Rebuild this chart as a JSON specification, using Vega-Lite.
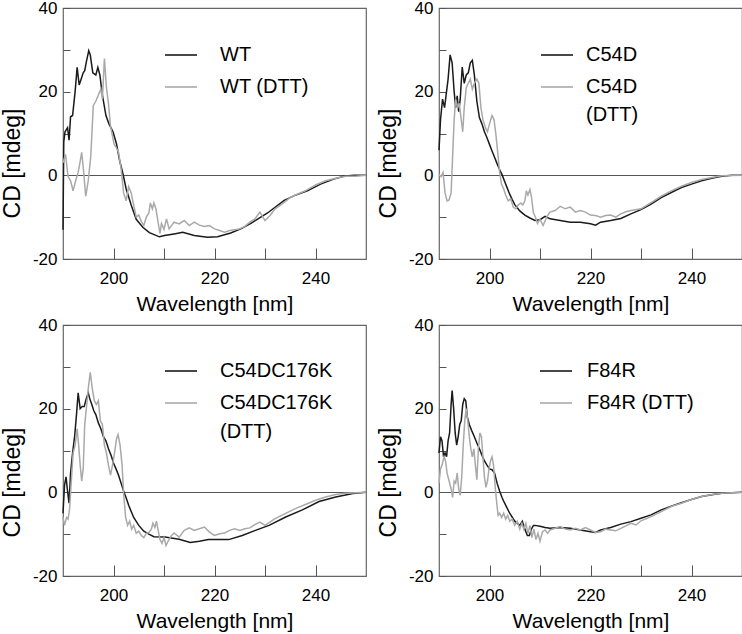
{
  "$schema": "https://vega.github.io/schema/vega-lite/v6.json",
  "padding": {"left": 0, "top": -2, "right": 0, "bottom": 0},
  "background": "white",
  "config": {
    "view": {"stroke": "#666666", "strokeWidth": 1.2},
    "axis": {
      "labelFont": "Liberation Sans", "labelFontSize": 17, "labelColor": "#000000",
      "titleFont": "Liberation Sans", "titleFontSize": 21, "titleFontWeight": "normal", "titleColor": "#000000",
      "grid": false, "domain": false
    },
    "legend": {
      "labelFont": "Liberation Sans", "labelFontSize": 20, "labelColor": "#000000",
      "symbolType": "stroke", "symbolSize": 1024, "symbolStrokeWidth": 1.6,
      "padding": 0, "rowPadding": 5, "orient": "none", "title": null, "labelLimit": 300
    }
  },
  "data": {"values": [
    {"series":"WT","wl":190.0,"cd":-13},{"series":"WT","wl":190.15,"cd":8},{"series":"WT","wl":190.4,"cd":10.4},{"series":"WT","wl":190.9,"cd":11.4},{"series":"WT","wl":191.2,"cd":8.4},{"series":"WT","wl":191.5,"cd":14},{"series":"WT","wl":191.9,"cd":14.3},{"series":"WT","wl":192.4,"cd":20},{"series":"WT","wl":192.8,"cd":25.8},{"series":"WT","wl":193.2,"cd":21.6},{"series":"WT","wl":193.6,"cd":23},{"series":"WT","wl":194.0,"cd":24.5},{"series":"WT","wl":194.3,"cd":25},{"series":"WT","wl":194.6,"cd":27},{"series":"WT","wl":195.1,"cd":29.8},{"series":"WT","wl":195.4,"cd":28.8},{"series":"WT","wl":195.9,"cd":24.5},{"series":"WT","wl":196.5,"cd":24},{"series":"WT","wl":196.9,"cd":25.8},{"series":"WT","wl":197.3,"cd":24},{"series":"WT","wl":197.8,"cd":19.2},{"series":"WT","wl":198.5,"cd":14.3},{"series":"WT","wl":199.1,"cd":12.3},{"series":"WT","wl":199.9,"cd":10.4},{"series":"WT","wl":200.6,"cd":7.5},{"series":"WT","wl":201.2,"cd":3.6},{"series":"WT","wl":201.9,"cd":0.2},{"series":"WT","wl":202.5,"cd":-3.2},{"series":"WT","wl":203.5,"cd":-7.1},{"series":"WT","wl":204.5,"cd":-10.5},{"series":"WT","wl":205.8,"cd":-12.4},{"series":"WT","wl":207.1,"cd":-13.7},{"series":"WT","wl":209.1,"cd":-14.7},{"series":"WT","wl":210.1,"cd":-14.4},{"series":"WT","wl":212,"cd":-14},{"series":"WT","wl":213.7,"cd":-13.6},{"series":"WT","wl":216,"cd":-14.4},{"series":"WT","wl":218.6,"cd":-14.8},{"series":"WT","wl":220.6,"cd":-14.7},{"series":"WT","wl":223.2,"cd":-13.8},{"series":"WT","wl":225.2,"cd":-12.8},{"series":"WT","wl":227.2,"cd":-11.5},{"series":"WT","wl":230.5,"cd":-9},{"series":"WT","wl":233.8,"cd":-6},{"series":"WT","wl":235.7,"cd":-4.9},{"series":"WT","wl":238.4,"cd":-3.7},{"series":"WT","wl":241,"cd":-2.1},{"series":"WT","wl":243.6,"cd":-0.9},{"series":"WT","wl":245.6,"cd":-0.2},{"series":"WT","wl":247.6,"cd":0},{"series":"WT","wl":250,"cd":0},
    {"series":"WT (DTT)","wl":190.0,"cd":3},{"series":"WT (DTT)","wl":190.5,"cd":5},{"series":"WT (DTT)","wl":191.0,"cd":-0.3},{"series":"WT (DTT)","wl":191.5,"cd":-1.3},{"series":"WT (DTT)","wl":192.0,"cd":-3.7},{"series":"WT (DTT)","wl":192.5,"cd":-1.3},{"series":"WT (DTT)","wl":193.0,"cd":0.7},{"series":"WT (DTT)","wl":193.3,"cd":2.6},{"series":"WT (DTT)","wl":193.7,"cd":5.5},{"series":"WT (DTT)","wl":194.1,"cd":0.7},{"series":"WT (DTT)","wl":194.5,"cd":-5},{"series":"WT (DTT)","wl":195.0,"cd":-1.3},{"series":"WT (DTT)","wl":195.5,"cd":4.6},{"series":"WT (DTT)","wl":196.0,"cd":16.7},{"series":"WT (DTT)","wl":196.5,"cd":17.7},{"series":"WT (DTT)","wl":197.0,"cd":19.2},{"series":"WT (DTT)","wl":197.5,"cd":20.6},{"series":"WT (DTT)","wl":197.8,"cd":18.2},{"series":"WT (DTT)","wl":198.2,"cd":27.9},{"series":"WT (DTT)","wl":198.6,"cd":21},{"series":"WT (DTT)","wl":199.0,"cd":17.2},{"series":"WT (DTT)","wl":199.4,"cd":11.8},{"series":"WT (DTT)","wl":199.8,"cd":9.4},{"series":"WT (DTT)","wl":200.1,"cd":7.5},{"series":"WT (DTT)","wl":200.6,"cd":6.5},{"series":"WT (DTT)","wl":201.0,"cd":5.5},{"series":"WT (DTT)","wl":201.5,"cd":1.6},{"series":"WT (DTT)","wl":202.0,"cd":-4.2},{"series":"WT (DTT)","wl":202.5,"cd":-6.1},{"series":"WT (DTT)","wl":203.0,"cd":-2.7},{"series":"WT (DTT)","wl":203.5,"cd":-4.2},{"series":"WT (DTT)","wl":204.0,"cd":-7.1},{"series":"WT (DTT)","wl":204.5,"cd":-10},{"series":"WT (DTT)","wl":205.0,"cd":-9.5},{"series":"WT (DTT)","wl":205.5,"cd":-11},{"series":"WT (DTT)","wl":206.0,"cd":-12},{"series":"WT (DTT)","wl":206.5,"cd":-10},{"series":"WT (DTT)","wl":207.0,"cd":-9},{"series":"WT (DTT)","wl":207.3,"cd":-6.6},{"series":"WT (DTT)","wl":207.7,"cd":-8},{"series":"WT (DTT)","wl":208.0,"cd":-6.6},{"series":"WT (DTT)","wl":208.4,"cd":-8},{"series":"WT (DTT)","wl":208.8,"cd":-11},{"series":"WT (DTT)","wl":209.2,"cd":-13.9},{"series":"WT (DTT)","wl":209.5,"cd":-11.5},{"series":"WT (DTT)","wl":210.0,"cd":-12.9},{"series":"WT (DTT)","wl":210.5,"cd":-10.4},{"series":"WT (DTT)","wl":211,"cd":-12.8},{"series":"WT (DTT)","wl":212,"cd":-11.2},{"series":"WT (DTT)","wl":213,"cd":-11.6},{"series":"WT (DTT)","wl":214,"cd":-10.8},{"series":"WT (DTT)","wl":215,"cd":-12},{"series":"WT (DTT)","wl":216,"cd":-11.2},{"series":"WT (DTT)","wl":217,"cd":-11.9},{"series":"WT (DTT)","wl":218,"cd":-12.2},{"series":"WT (DTT)","wl":219,"cd":-12},{"series":"WT (DTT)","wl":220,"cd":-12.8},{"series":"WT (DTT)","wl":221,"cd":-13.2},{"series":"WT (DTT)","wl":222,"cd":-13.6},{"series":"WT (DTT)","wl":223,"cd":-13.2},{"series":"WT (DTT)","wl":224,"cd":-13},{"series":"WT (DTT)","wl":225,"cd":-12.8},{"series":"WT (DTT)","wl":226,"cd":-12.2},{"series":"WT (DTT)","wl":227,"cd":-11.2},{"series":"WT (DTT)","wl":228,"cd":-10.4},{"series":"WT (DTT)","wl":229,"cd":-8.8},{"series":"WT (DTT)","wl":230,"cd":-10.8},{"series":"WT (DTT)","wl":231,"cd":-9.6},{"series":"WT (DTT)","wl":232,"cd":-8},{"series":"WT (DTT)","wl":233,"cd":-7.2},{"series":"WT (DTT)","wl":234,"cd":-6.3},{"series":"WT (DTT)","wl":235,"cd":-5.3},{"series":"WT (DTT)","wl":236,"cd":-4.7},{"series":"WT (DTT)","wl":238,"cd":-3.7},{"series":"WT (DTT)","wl":240,"cd":-2.3},{"series":"WT (DTT)","wl":242,"cd":-1.3},{"series":"WT (DTT)","wl":244,"cd":-0.7},{"series":"WT (DTT)","wl":246,"cd":-0.2},{"series":"WT (DTT)","wl":248,"cd":-0.2},{"series":"WT (DTT)","wl":250,"cd":0},
    {"series":"C54D","wl":190.0,"cd":6},{"series":"C54D","wl":190.3,"cd":13.3},{"series":"C54D","wl":190.7,"cd":18.2},{"series":"C54D","wl":191.1,"cd":16.2},{"series":"C54D","wl":191.4,"cd":19.1},{"series":"C54D","wl":191.8,"cd":23},{"series":"C54D","wl":192.2,"cd":28.8},{"series":"C54D","wl":192.6,"cd":26.9},{"series":"C54D","wl":193.0,"cd":20},{"series":"C54D","wl":193.3,"cd":16.2},{"series":"C54D","wl":193.6,"cd":19},{"series":"C54D","wl":193.9,"cd":15.2},{"series":"C54D","wl":194.2,"cd":18.2},{"series":"C54D","wl":194.6,"cd":25.9},{"series":"C54D","wl":195.0,"cd":22},{"series":"C54D","wl":195.4,"cd":24},{"series":"C54D","wl":195.8,"cd":24.5},{"series":"C54D","wl":196.2,"cd":26.9},{"series":"C54D","wl":196.6,"cd":27.5},{"series":"C54D","wl":197.0,"cd":24},{"series":"C54D","wl":197.5,"cd":17.7},{"series":"C54D","wl":198.0,"cd":13.8},{"series":"C54D","wl":198.5,"cd":12.3},{"series":"C54D","wl":199.0,"cd":10.4},{"series":"C54D","wl":199.5,"cd":9},{"series":"C54D","wl":200.0,"cd":7.4},{"series":"C54D","wl":200.5,"cd":5.8},{"series":"C54D","wl":201.0,"cd":4.3},{"series":"C54D","wl":201.5,"cd":2.8},{"series":"C54D","wl":202.0,"cd":1.4},{"series":"C54D","wl":202.5,"cd":0.1},{"series":"C54D","wl":203.0,"cd":-1.5},{"series":"C54D","wl":203.5,"cd":-3},{"series":"C54D","wl":204.0,"cd":-4.5},{"series":"C54D","wl":204.5,"cd":-5.8},{"series":"C54D","wl":205.0,"cd":-7},{"series":"C54D","wl":206.0,"cd":-8.5},{"series":"C54D","wl":207.0,"cd":-9.5},{"series":"C54D","wl":208.0,"cd":-10.2},{"series":"C54D","wl":209.0,"cd":-10.8},{"series":"C54D","wl":210.0,"cd":-10.6},{"series":"C54D","wl":211,"cd":-9.8},{"series":"C54D","wl":212,"cd":-10.4},{"series":"C54D","wl":214,"cd":-10.8},{"series":"C54D","wl":216,"cd":-11.2},{"series":"C54D","wl":218,"cd":-11.2},{"series":"C54D","wl":220,"cd":-11.6},{"series":"C54D","wl":221,"cd":-11.9},{"series":"C54D","wl":222,"cd":-11.2},{"series":"C54D","wl":224,"cd":-10.8},{"series":"C54D","wl":226,"cd":-10.3},{"series":"C54D","wl":228,"cd":-9.2},{"series":"C54D","wl":230,"cd":-8.2},{"series":"C54D","wl":232,"cd":-6.9},{"series":"C54D","wl":234,"cd":-5.3},{"series":"C54D","wl":236,"cd":-4.1},{"series":"C54D","wl":238,"cd":-2.9},{"series":"C54D","wl":240,"cd":-2.1},{"series":"C54D","wl":242,"cd":-1.3},{"series":"C54D","wl":244,"cd":-0.7},{"series":"C54D","wl":246,"cd":-0.2},{"series":"C54D","wl":248,"cd":0},{"series":"C54D","wl":250,"cd":0},
    {"series":"C54D (DTT)","wl":190.0,"cd":0.2},{"series":"C54D (DTT)","wl":190.4,"cd":-0.3},{"series":"C54D (DTT)","wl":190.8,"cd":0.7},{"series":"C54D (DTT)","wl":191.2,"cd":-4.2},{"series":"C54D (DTT)","wl":191.6,"cd":-6.1},{"series":"C54D (DTT)","wl":192.0,"cd":-5.9},{"series":"C54D (DTT)","wl":192.4,"cd":-4.2},{"series":"C54D (DTT)","wl":192.7,"cd":4.6},{"series":"C54D (DTT)","wl":193.0,"cd":13.3},{"series":"C54D (DTT)","wl":193.3,"cd":18.2},{"series":"C54D (DTT)","wl":193.7,"cd":16.2},{"series":"C54D (DTT)","wl":194.0,"cd":17.2},{"series":"C54D (DTT)","wl":194.4,"cd":13.3},{"series":"C54D (DTT)","wl":194.7,"cd":10.4},{"series":"C54D (DTT)","wl":195.0,"cd":16.2},{"series":"C54D (DTT)","wl":195.4,"cd":21},{"series":"C54D (DTT)","wl":195.8,"cd":22},{"series":"C54D (DTT)","wl":196.2,"cd":23},{"series":"C54D (DTT)","wl":196.6,"cd":20.6},{"series":"C54D (DTT)","wl":197.0,"cd":22},{"series":"C54D (DTT)","wl":197.5,"cd":23},{"series":"C54D (DTT)","wl":197.9,"cd":22},{"series":"C54D (DTT)","wl":198.3,"cd":16.2},{"series":"C54D (DTT)","wl":198.7,"cd":13.3},{"series":"C54D (DTT)","wl":199.2,"cd":11.4},{"series":"C54D (DTT)","wl":199.6,"cd":10.4},{"series":"C54D (DTT)","wl":200.0,"cd":12.3},{"series":"C54D (DTT)","wl":200.5,"cd":14.3},{"series":"C54D (DTT)","wl":200.9,"cd":13.3},{"series":"C54D (DTT)","wl":201.3,"cd":9.4},{"series":"C54D (DTT)","wl":201.7,"cd":4.6},{"series":"C54D (DTT)","wl":202.0,"cd":0.7},{"series":"C54D (DTT)","wl":202.4,"cd":-2.2},{"series":"C54D (DTT)","wl":202.8,"cd":-3.2},{"series":"C54D (DTT)","wl":203.2,"cd":-4.7},{"series":"C54D (DTT)","wl":203.7,"cd":-6.1},{"series":"C54D (DTT)","wl":204.2,"cd":-5.6},{"series":"C54D (DTT)","wl":204.7,"cd":-7.6},{"series":"C54D (DTT)","wl":205.2,"cd":-8},{"series":"C54D (DTT)","wl":205.7,"cd":-7.1},{"series":"C54D (DTT)","wl":206.2,"cd":-6.6},{"series":"C54D (DTT)","wl":206.6,"cd":-7.1},{"series":"C54D (DTT)","wl":207.0,"cd":-6.1},{"series":"C54D (DTT)","wl":207.3,"cd":-3.7},{"series":"C54D (DTT)","wl":207.6,"cd":-4.7},{"series":"C54D (DTT)","wl":208.0,"cd":-3.4},{"series":"C54D (DTT)","wl":208.3,"cd":-5.1},{"series":"C54D (DTT)","wl":208.7,"cd":-9},{"series":"C54D (DTT)","wl":209.1,"cd":-10},{"series":"C54D (DTT)","wl":209.5,"cd":-11.5},{"series":"C54D (DTT)","wl":210.0,"cd":-10.5},{"series":"C54D (DTT)","wl":210.6,"cd":-12},{"series":"C54D (DTT)","wl":211.5,"cd":-9.6},{"series":"C54D (DTT)","wl":212,"cd":-8.8},{"series":"C54D (DTT)","wl":213,"cd":-8.4},{"series":"C54D (DTT)","wl":214,"cd":-7.4},{"series":"C54D (DTT)","wl":215,"cd":-8},{"series":"C54D (DTT)","wl":216,"cd":-7.6},{"series":"C54D (DTT)","wl":217,"cd":-8.8},{"series":"C54D (DTT)","wl":218,"cd":-8.4},{"series":"C54D (DTT)","wl":219,"cd":-8.8},{"series":"C54D (DTT)","wl":220,"cd":-9.5},{"series":"C54D (DTT)","wl":221,"cd":-9.6},{"series":"C54D (DTT)","wl":222,"cd":-10},{"series":"C54D (DTT)","wl":223,"cd":-9.6},{"series":"C54D (DTT)","wl":224,"cd":-9.5},{"series":"C54D (DTT)","wl":225,"cd":-10},{"series":"C54D (DTT)","wl":226,"cd":-9.2},{"series":"C54D (DTT)","wl":227,"cd":-8.7},{"series":"C54D (DTT)","wl":228,"cd":-8.4},{"series":"C54D (DTT)","wl":230,"cd":-8},{"series":"C54D (DTT)","wl":232,"cd":-6.5},{"series":"C54D (DTT)","wl":234,"cd":-5},{"series":"C54D (DTT)","wl":236,"cd":-3.7},{"series":"C54D (DTT)","wl":238,"cd":-2.6},{"series":"C54D (DTT)","wl":240,"cd":-1.7},{"series":"C54D (DTT)","wl":242,"cd":-1},{"series":"C54D (DTT)","wl":244,"cd":-0.5},{"series":"C54D (DTT)","wl":246,"cd":-0.1},{"series":"C54D (DTT)","wl":250,"cd":0},
    {"series":"C54DC176K","wl":190.0,"cd":-5},{"series":"C54DC176K","wl":190.3,"cd":1.7},{"series":"C54DC176K","wl":190.6,"cd":3.7},{"series":"C54DC176K","wl":190.9,"cd":0.3},{"series":"C54DC176K","wl":191.2,"cd":-2.6},{"series":"C54DC176K","wl":191.5,"cd":4.6},{"series":"C54DC176K","wl":191.9,"cd":9.4},{"series":"C54DC176K","wl":192.3,"cd":13.3},{"series":"C54DC176K","wl":192.7,"cd":19},{"series":"C54DC176K","wl":193.0,"cd":23.8},{"series":"C54DC176K","wl":193.4,"cd":20},{"series":"C54DC176K","wl":193.8,"cd":20.5},{"series":"C54DC176K","wl":194.2,"cd":20.5},{"series":"C54DC176K","wl":194.6,"cd":22.4},{"series":"C54DC176K","wl":195.0,"cd":23.8},{"series":"C54DC176K","wl":195.3,"cd":22.4},{"series":"C54DC176K","wl":195.7,"cd":21},{"series":"C54DC176K","wl":196.1,"cd":19.5},{"series":"C54DC176K","wl":196.5,"cd":18.6},{"series":"C54DC176K","wl":197.0,"cd":16.6},{"series":"C54DC176K","wl":197.5,"cd":15.2},{"series":"C54DC176K","wl":198.0,"cd":13.3},{"series":"C54DC176K","wl":198.5,"cd":12.3},{"series":"C54DC176K","wl":199.0,"cd":10.4},{"series":"C54DC176K","wl":199.5,"cd":8.9},{"series":"C54DC176K","wl":200.0,"cd":7},{"series":"C54DC176K","wl":200.5,"cd":5.6},{"series":"C54DC176K","wl":201.0,"cd":4.1},{"series":"C54DC176K","wl":201.5,"cd":2.2},{"series":"C54DC176K","wl":202.0,"cd":0.3},{"series":"C54DC176K","wl":202.5,"cd":-1.3},{"series":"C54DC176K","wl":203.0,"cd":-3.1},{"series":"C54DC176K","wl":204.0,"cd":-6},{"series":"C54DC176K","wl":205.0,"cd":-7.9},{"series":"C54DC176K","wl":206.0,"cd":-9.3},{"series":"C54DC176K","wl":207.0,"cd":-10},{"series":"C54DC176K","wl":208.0,"cd":-10.6},{"series":"C54DC176K","wl":210.2,"cd":-10.7},{"series":"C54DC176K","wl":213,"cd":-11.2},{"series":"C54DC176K","wl":215.2,"cd":-12},{"series":"C54DC176K","wl":217,"cd":-11.7},{"series":"C54DC176K","wl":218.8,"cd":-11.3},{"series":"C54DC176K","wl":222.8,"cd":-11.3},{"series":"C54DC176K","wl":225.5,"cd":-10.3},{"series":"C54DC176K","wl":228.1,"cd":-9.1},{"series":"C54DC176K","wl":230.8,"cd":-7.9},{"series":"C54DC176K","wl":234.1,"cd":-5.9},{"series":"C54DC176K","wl":237.4,"cd":-4.2},{"series":"C54DC176K","wl":240.7,"cd":-2.2},{"series":"C54DC176K","wl":244,"cd":-1.1},{"series":"C54DC176K","wl":247.4,"cd":-0.3},{"series":"C54DC176K","wl":250,"cd":0},
    {"series":"C54DC176K (DTT)","wl":190.0,"cd":-6},{"series":"C54DC176K (DTT)","wl":190.3,"cd":-7.9},{"series":"C54DC176K (DTT)","wl":190.7,"cd":-6},{"series":"C54DC176K (DTT)","wl":191.0,"cd":-6.4},{"series":"C54DC176K (DTT)","wl":191.3,"cd":-4},{"series":"C54DC176K (DTT)","wl":191.7,"cd":3.7},{"series":"C54DC176K (DTT)","wl":192.0,"cd":9.4},{"series":"C54DC176K (DTT)","wl":192.4,"cd":11.3},{"series":"C54DC176K (DTT)","wl":192.8,"cd":15.2},{"series":"C54DC176K (DTT)","wl":193.1,"cd":11.3},{"series":"C54DC176K (DTT)","wl":193.4,"cd":6.5},{"series":"C54DC176K (DTT)","wl":193.7,"cd":2.7},{"series":"C54DC176K (DTT)","wl":194.0,"cd":5.6},{"series":"C54DC176K (DTT)","wl":194.3,"cd":16.2},{"series":"C54DC176K (DTT)","wl":194.7,"cd":21},{"series":"C54DC176K (DTT)","wl":195.0,"cd":24.8},{"series":"C54DC176K (DTT)","wl":195.4,"cd":28.7},{"series":"C54DC176K (DTT)","wl":195.8,"cd":24.8},{"series":"C54DC176K (DTT)","wl":196.2,"cd":21.9},{"series":"C54DC176K (DTT)","wl":196.6,"cd":21},{"series":"C54DC176K (DTT)","wl":197.0,"cd":21.9},{"series":"C54DC176K (DTT)","wl":197.4,"cd":17.1},{"series":"C54DC176K (DTT)","wl":197.8,"cd":16.2},{"series":"C54DC176K (DTT)","wl":198.2,"cd":11.3},{"series":"C54DC176K (DTT)","wl":198.6,"cd":9.4},{"series":"C54DC176K (DTT)","wl":199.0,"cd":6.5},{"series":"C54DC176K (DTT)","wl":199.4,"cd":4.1},{"series":"C54DC176K (DTT)","wl":199.8,"cd":6.5},{"series":"C54DC176K (DTT)","wl":200.2,"cd":9.4},{"series":"C54DC176K (DTT)","wl":200.6,"cd":12.8},{"series":"C54DC176K (DTT)","wl":200.9,"cd":13.8},{"series":"C54DC176K (DTT)","wl":201.3,"cd":11.3},{"series":"C54DC176K (DTT)","wl":201.7,"cd":6.5},{"series":"C54DC176K (DTT)","wl":202.0,"cd":-0.2},{"series":"C54DC176K (DTT)","wl":202.4,"cd":-6},{"series":"C54DC176K (DTT)","wl":202.8,"cd":-7.9},{"series":"C54DC176K (DTT)","wl":203.2,"cd":-6.9},{"series":"C54DC176K (DTT)","wl":203.6,"cd":-8.8},{"series":"C54DC176K (DTT)","wl":204.0,"cd":-7.9},{"series":"C54DC176K (DTT)","wl":204.5,"cd":-9.8},{"series":"C54DC176K (DTT)","wl":205.0,"cd":-9.3},{"series":"C54DC176K (DTT)","wl":205.5,"cd":-10.3},{"series":"C54DC176K (DTT)","wl":206.0,"cd":-10.8},{"series":"C54DC176K (DTT)","wl":206.5,"cd":-9.8},{"series":"C54DC176K (DTT)","wl":207.0,"cd":-9.6},{"series":"C54DC176K (DTT)","wl":207.5,"cd":-8.8},{"series":"C54DC176K (DTT)","wl":207.8,"cd":-7.4},{"series":"C54DC176K (DTT)","wl":208.2,"cd":-8.4},{"series":"C54DC176K (DTT)","wl":208.5,"cd":-6.9},{"series":"C54DC176K (DTT)","wl":208.8,"cd":-8.8},{"series":"C54DC176K (DTT)","wl":209.2,"cd":-11.3},{"series":"C54DC176K (DTT)","wl":209.6,"cd":-12.2},{"series":"C54DC176K (DTT)","wl":210.0,"cd":-10.8},{"series":"C54DC176K (DTT)","wl":210.4,"cd":-12.7},{"series":"C54DC176K (DTT)","wl":210.8,"cd":-11.7},{"series":"C54DC176K (DTT)","wl":211.5,"cd":-10.3},{"series":"C54DC176K (DTT)","wl":212,"cd":-9.7},{"series":"C54DC176K (DTT)","wl":213,"cd":-10.7},{"series":"C54DC176K (DTT)","wl":214,"cd":-9.1},{"series":"C54DC176K (DTT)","wl":215,"cd":-8.5},{"series":"C54DC176K (DTT)","wl":216,"cd":-9.1},{"series":"C54DC176K (DTT)","wl":217,"cd":-8.7},{"series":"C54DC176K (DTT)","wl":218,"cd":-8.3},{"series":"C54DC176K (DTT)","wl":219,"cd":-9.5},{"series":"C54DC176K (DTT)","wl":220,"cd":-10.3},{"series":"C54DC176K (DTT)","wl":221,"cd":-9.9},{"series":"C54DC176K (DTT)","wl":222,"cd":-9.7},{"series":"C54DC176K (DTT)","wl":223,"cd":-9.1},{"series":"C54DC176K (DTT)","wl":224,"cd":-8.7},{"series":"C54DC176K (DTT)","wl":225,"cd":-9.1},{"series":"C54DC176K (DTT)","wl":226,"cd":-8.7},{"series":"C54DC176K (DTT)","wl":227,"cd":-8.5},{"series":"C54DC176K (DTT)","wl":228,"cd":-7.7},{"series":"C54DC176K (DTT)","wl":229,"cd":-7.1},{"series":"C54DC176K (DTT)","wl":230,"cd":-7.9},{"series":"C54DC176K (DTT)","wl":232,"cd":-6.3},{"series":"C54DC176K (DTT)","wl":234,"cd":-5.1},{"series":"C54DC176K (DTT)","wl":236,"cd":-3.9},{"series":"C54DC176K (DTT)","wl":238,"cd":-2.9},{"series":"C54DC176K (DTT)","wl":240,"cd":-1.9},{"series":"C54DC176K (DTT)","wl":242,"cd":-1.1},{"series":"C54DC176K (DTT)","wl":244,"cd":-0.5},{"series":"C54DC176K (DTT)","wl":246,"cd":-0.2},{"series":"C54DC176K (DTT)","wl":250,"cd":0},
    {"series":"F84R","wl":190.0,"cd":9.4},{"series":"F84R","wl":190.3,"cd":13.3},{"series":"F84R","wl":190.6,"cd":12.3},{"series":"F84R","wl":190.9,"cd":8.5},{"series":"F84R","wl":191.2,"cd":9.4},{"series":"F84R","wl":191.5,"cd":8.5},{"series":"F84R","wl":191.8,"cd":12.3},{"series":"F84R","wl":192.1,"cd":14.2},{"series":"F84R","wl":192.4,"cd":21},{"series":"F84R","wl":192.6,"cd":24.3},{"series":"F84R","wl":192.9,"cd":20},{"series":"F84R","wl":193.2,"cd":14.2},{"series":"F84R","wl":193.5,"cd":11.3},{"series":"F84R","wl":193.8,"cd":13.3},{"series":"F84R","wl":194.1,"cd":16.2},{"series":"F84R","wl":194.4,"cd":17.1},{"series":"F84R","wl":194.7,"cd":21},{"series":"F84R","wl":195.0,"cd":22.4},{"series":"F84R","wl":195.3,"cd":21.9},{"series":"F84R","wl":195.6,"cd":18},{"series":"F84R","wl":196.0,"cd":16.2},{"series":"F84R","wl":196.5,"cd":14.7},{"series":"F84R","wl":197.0,"cd":13.3},{"series":"F84R","wl":197.5,"cd":11.8},{"series":"F84R","wl":198.0,"cd":10.4},{"series":"F84R","wl":198.5,"cd":8.9},{"series":"F84R","wl":199.0,"cd":7.5},{"series":"F84R","wl":199.5,"cd":6.5},{"series":"F84R","wl":200.0,"cd":5.6},{"series":"F84R","wl":200.5,"cd":5.4},{"series":"F84R","wl":201.0,"cd":4.6},{"series":"F84R","wl":201.5,"cd":2.2},{"series":"F84R","wl":202.0,"cd":0.3},{"series":"F84R","wl":202.5,"cd":-1.3},{"series":"F84R","wl":203.0,"cd":-2.6},{"series":"F84R","wl":204.0,"cd":-5},{"series":"F84R","wl":205.0,"cd":-6.9},{"series":"F84R","wl":206.0,"cd":-7.9},{"series":"F84R","wl":206.5,"cd":-6.9},{"series":"F84R","wl":207.0,"cd":-8.8},{"series":"F84R","wl":207.5,"cd":-10.3},{"series":"F84R","wl":207.9,"cd":-10.3},{"series":"F84R","wl":208.3,"cd":-8.8},{"series":"F84R","wl":208.7,"cd":-7.9},{"series":"F84R","wl":209.0,"cd":-7.9},{"series":"F84R","wl":210.0,"cd":-8.1},{"series":"F84R","wl":211,"cd":-8.4},{"series":"F84R","wl":212,"cd":-8.6},{"series":"F84R","wl":214,"cd":-8.4},{"series":"F84R","wl":216,"cd":-8.6},{"series":"F84R","wl":218,"cd":-9},{"series":"F84R","wl":220,"cd":-9.4},{"series":"F84R","wl":221,"cd":-9.6},{"series":"F84R","wl":222,"cd":-9},{"series":"F84R","wl":224,"cd":-8.4},{"series":"F84R","wl":226,"cd":-7.6},{"series":"F84R","wl":228,"cd":-7},{"series":"F84R","wl":230,"cd":-6.2},{"series":"F84R","wl":232,"cd":-5.4},{"series":"F84R","wl":234,"cd":-4.2},{"series":"F84R","wl":236,"cd":-3.3},{"series":"F84R","wl":238,"cd":-2.5},{"series":"F84R","wl":240,"cd":-1.7},{"series":"F84R","wl":242,"cd":-1},{"series":"F84R","wl":244,"cd":-0.6},{"series":"F84R","wl":246,"cd":-0.2},{"series":"F84R","wl":250,"cd":0},
    {"series":"F84R (DTT)","wl":190.0,"cd":2.2},{"series":"F84R (DTT)","wl":190.3,"cd":5.6},{"series":"F84R (DTT)","wl":190.6,"cd":6.5},{"series":"F84R (DTT)","wl":191.0,"cd":8.5},{"series":"F84R (DTT)","wl":191.3,"cd":7.5},{"series":"F84R (DTT)","wl":191.6,"cd":4.6},{"series":"F84R (DTT)","wl":192.0,"cd":2.7},{"series":"F84R (DTT)","wl":192.4,"cd":0.8},{"series":"F84R (DTT)","wl":192.7,"cd":-1.2},{"series":"F84R (DTT)","wl":193.0,"cd":2.7},{"series":"F84R (DTT)","wl":193.3,"cd":2.2},{"series":"F84R (DTT)","wl":193.6,"cd":4.6},{"series":"F84R (DTT)","wl":193.9,"cd":0.8},{"series":"F84R (DTT)","wl":194.2,"cd":-0.7},{"series":"F84R (DTT)","wl":194.5,"cd":3.7},{"series":"F84R (DTT)","wl":194.8,"cd":11.3},{"series":"F84R (DTT)","wl":195.1,"cd":17.1},{"series":"F84R (DTT)","wl":195.4,"cd":20},{"series":"F84R (DTT)","wl":195.7,"cd":17.1},{"series":"F84R (DTT)","wl":196.0,"cd":13.3},{"series":"F84R (DTT)","wl":196.3,"cd":10.4},{"series":"F84R (DTT)","wl":196.6,"cd":8.5},{"series":"F84R (DTT)","wl":196.9,"cd":10.4},{"series":"F84R (DTT)","wl":197.2,"cd":6.5},{"series":"F84R (DTT)","wl":197.5,"cd":3},{"series":"F84R (DTT)","wl":197.8,"cd":10.4},{"series":"F84R (DTT)","wl":198.1,"cd":14.2},{"series":"F84R (DTT)","wl":198.4,"cd":13.3},{"series":"F84R (DTT)","wl":198.7,"cd":8.5},{"series":"F84R (DTT)","wl":199.0,"cd":3.7},{"series":"F84R (DTT)","wl":199.3,"cd":1.2},{"series":"F84R (DTT)","wl":199.6,"cd":2.7},{"series":"F84R (DTT)","wl":199.9,"cd":5.6},{"series":"F84R (DTT)","wl":200.2,"cd":7.5},{"series":"F84R (DTT)","wl":200.5,"cd":8.5},{"series":"F84R (DTT)","wl":200.8,"cd":6.5},{"series":"F84R (DTT)","wl":201.1,"cd":1.7},{"series":"F84R (DTT)","wl":201.4,"cd":-2.2},{"series":"F84R (DTT)","wl":201.7,"cd":-5.5},{"series":"F84R (DTT)","wl":202.0,"cd":-5},{"series":"F84R (DTT)","wl":202.4,"cd":-6},{"series":"F84R (DTT)","wl":202.8,"cd":-5},{"series":"F84R (DTT)","wl":203.2,"cd":-6.4},{"series":"F84R (DTT)","wl":203.6,"cd":-5.5},{"series":"F84R (DTT)","wl":204.0,"cd":-6.9},{"series":"F84R (DTT)","wl":204.5,"cd":-6.4},{"series":"F84R (DTT)","wl":205.0,"cd":-7.9},{"series":"F84R (DTT)","wl":205.5,"cd":-6.9},{"series":"F84R (DTT)","wl":206.0,"cd":-8.8},{"series":"F84R (DTT)","wl":206.4,"cd":-7.4},{"series":"F84R (DTT)","wl":206.8,"cd":-8.8},{"series":"F84R (DTT)","wl":207.2,"cd":-7.4},{"series":"F84R (DTT)","wl":207.6,"cd":-9.8},{"series":"F84R (DTT)","wl":208.0,"cd":-7.9},{"series":"F84R (DTT)","wl":208.4,"cd":-10.8},{"series":"F84R (DTT)","wl":208.8,"cd":-8.8},{"series":"F84R (DTT)","wl":209.2,"cd":-11.3},{"series":"F84R (DTT)","wl":209.6,"cd":-9.8},{"series":"F84R (DTT)","wl":210.0,"cd":-11.7},{"series":"F84R (DTT)","wl":210.5,"cd":-9.4},{"series":"F84R (DTT)","wl":211,"cd":-9},{"series":"F84R (DTT)","wl":211.5,"cd":-9.8},{"series":"F84R (DTT)","wl":212,"cd":-9},{"series":"F84R (DTT)","wl":213,"cd":-8.6},{"series":"F84R (DTT)","wl":214,"cd":-8.2},{"series":"F84R (DTT)","wl":215,"cd":-8.8},{"series":"F84R (DTT)","wl":216,"cd":-9},{"series":"F84R (DTT)","wl":217,"cd":-8.6},{"series":"F84R (DTT)","wl":218,"cd":-9},{"series":"F84R (DTT)","wl":219,"cd":-8.4},{"series":"F84R (DTT)","wl":220,"cd":-9},{"series":"F84R (DTT)","wl":221,"cd":-9.6},{"series":"F84R (DTT)","wl":222,"cd":-9.4},{"series":"F84R (DTT)","wl":223,"cd":-8.8},{"series":"F84R (DTT)","wl":224,"cd":-9},{"series":"F84R (DTT)","wl":225,"cd":-9.2},{"series":"F84R (DTT)","wl":226,"cd":-8.6},{"series":"F84R (DTT)","wl":227,"cd":-8},{"series":"F84R (DTT)","wl":228,"cd":-7.4},{"series":"F84R (DTT)","wl":229,"cd":-7.8},{"series":"F84R (DTT)","wl":230,"cd":-6.8},{"series":"F84R (DTT)","wl":232,"cd":-5.8},{"series":"F84R (DTT)","wl":234,"cd":-4.6},{"series":"F84R (DTT)","wl":236,"cd":-3.4},{"series":"F84R (DTT)","wl":238,"cd":-2.6},{"series":"F84R (DTT)","wl":240,"cd":-1.7},{"series":"F84R (DTT)","wl":242,"cd":-1},{"series":"F84R (DTT)","wl":244,"cd":-0.5},{"series":"F84R (DTT)","wl":246,"cd":-0.2},{"series":"F84R (DTT)","wl":250,"cd":0}
  ]},
  "columns": 2,
  "spacing": {"row": 66, "column": 73},
  "bounds": "flush",
  "resolve": {"scale": {"color": "independent", "x": "independent", "y": "independent"}, "legend": {"color": "independent"}},
  "concat": [
    {
      "width": 303, "height": 251,
      "transform": [{"filter": {"field": "series", "oneOf": ["WT", "WT (DTT)"]}}],
      "mark": {"type": "line", "strokeWidth": 1.5},
      "encoding": {
        "x": {"field": "wl", "type": "quantitative", "scale": {"domain": [190, 250], "nice": false, "zero": false},
              "axis": {"values": [200, 210, 220, 230, 240], "labelExpr": "datum.value % 20 === 0 ? '' + datum.value : ''",
                       "title": "Wavelength [nm]", "labelPadding": 22, "titlePadding": 7, "tickColor": "#555555", "tickOpacity": 1, "tickSize": -11}},
        "y": {"field": "cd", "type": "quantitative", "scale": {"domain": [-20, 40], "nice": false},
              "axis": {"values": [-20, -10, 0, 10, 20, 30, 40], "labelExpr": "datum.value % 20 === 0 ? '' + datum.value : ''",
                       "title": "CD [mdeg]", "titleFontSize": 23, "labelPadding": 13, "titlePadding": 8, "titleY": 155,
                       "tickColor": "#555555", "tickOpacity": 1, "tickSize": -7,
                       "grid": true, "gridColor": "#555555", "gridWidth": 1.2,
                       "gridOpacity": {"condition": {"test": "datum.value === 0", "value": 1}, "value": 0}}},
        "color": {"field": "series", "type": "nominal", "scale": {"domain": ["WT", "WT (DTT)"], "range": ["#1a1a1a", "#a9a9a9"]},
                  "legend": {"legendX": 101, "legendY": 30, "labelOffset": 22}}
      }
    },
    {
      "width": 303, "height": 251,
      "transform": [{"filter": {"field": "series", "oneOf": ["C54D", "C54D (DTT)"]}}],
      "mark": {"type": "line", "strokeWidth": 1.5},
      "encoding": {
        "x": {"field": "wl", "type": "quantitative", "scale": {"domain": [190, 250], "nice": false, "zero": false},
              "axis": {"values": [200, 210, 220, 230, 240], "labelExpr": "datum.value % 20 === 0 ? '' + datum.value : ''",
                       "title": "Wavelength [nm]", "labelPadding": 22, "titlePadding": 7, "tickColor": "#555555", "tickOpacity": 1, "tickSize": -11}},
        "y": {"field": "cd", "type": "quantitative", "scale": {"domain": [-20, 40], "nice": false},
              "axis": {"values": [-20, -10, 0, 10, 20, 30, 40], "labelExpr": "datum.value % 20 === 0 ? '' + datum.value : ''",
                       "title": "CD [mdeg]", "titleFontSize": 23, "labelPadding": 13, "titlePadding": 8, "titleY": 155,
                       "tickColor": "#555555", "tickOpacity": 1, "tickSize": -7,
                       "grid": true, "gridColor": "#555555", "gridWidth": 1.2,
                       "gridOpacity": {"condition": {"test": "datum.value === 0", "value": 1}, "value": 0}}},
        "color": {"field": "series", "type": "nominal", "scale": {"domain": ["C54D", "C54D (DTT)"], "range": ["#1a1a1a", "#a9a9a9"]},
                  "legend": {"legendX": 101, "legendY": 30, "labelOffset": 12,
                             "labelExpr": "datum.label === 'C54D (DTT)' ? ['C54D', '(DTT)'] : datum.label",
                             "encode": {"labels": {"update": {"baseline": {"value": "top"}, "dy": {"value": -10}, "lineHeight": {"value": 28}}}}}}
      }
    },
    {
      "width": 303, "height": 251,
      "transform": [{"filter": {"field": "series", "oneOf": ["C54DC176K", "C54DC176K (DTT)"]}}],
      "mark": {"type": "line", "strokeWidth": 1.5},
      "encoding": {
        "x": {"field": "wl", "type": "quantitative", "scale": {"domain": [190, 250], "nice": false, "zero": false},
              "axis": {"values": [200, 210, 220, 230, 240], "labelExpr": "datum.value % 20 === 0 ? '' + datum.value : ''",
                       "title": "Wavelength [nm]", "labelPadding": 22, "titlePadding": 7, "tickColor": "#555555", "tickOpacity": 1, "tickSize": -11}},
        "y": {"field": "cd", "type": "quantitative", "scale": {"domain": [-20, 40], "nice": false},
              "axis": {"values": [-20, -10, 0, 10, 20, 30, 40], "labelExpr": "datum.value % 20 === 0 ? '' + datum.value : ''",
                       "title": "CD [mdeg]", "titleFontSize": 23, "labelPadding": 13, "titlePadding": 8, "titleY": 157,
                       "tickColor": "#555555", "tickOpacity": 1, "tickSize": -7,
                       "grid": true, "gridColor": "#555555", "gridWidth": 1.2,
                       "gridOpacity": {"condition": {"test": "datum.value === 0", "value": 1}, "value": 0}}},
        "color": {"field": "series", "type": "nominal", "scale": {"domain": ["C54DC176K", "C54DC176K (DTT)"], "range": ["#1a1a1a", "#a9a9a9"]},
                  "legend": {"legendX": 101, "legendY": 29, "labelOffset": 22,
                             "labelExpr": "datum.label === 'C54DC176K (DTT)' ? ['C54DC176K', '\u00a0(DTT)'] : datum.label",
                             "encode": {"labels": {"update": {"baseline": {"value": "top"}, "dy": {"value": -10}, "lineHeight": {"value": 29}}}}}}
      }
    },
    {
      "width": 303, "height": 251,
      "transform": [{"filter": {"field": "series", "oneOf": ["F84R", "F84R (DTT)"]}}],
      "mark": {"type": "line", "strokeWidth": 1.5},
      "encoding": {
        "x": {"field": "wl", "type": "quantitative", "scale": {"domain": [190, 250], "nice": false, "zero": false},
              "axis": {"values": [200, 210, 220, 230, 240], "labelExpr": "datum.value % 20 === 0 ? '' + datum.value : ''",
                       "title": "Wavelength [nm]", "labelPadding": 22, "titlePadding": 7, "tickColor": "#555555", "tickOpacity": 1, "tickSize": -11}},
        "y": {"field": "cd", "type": "quantitative", "scale": {"domain": [-20, 40], "nice": false},
              "axis": {"values": [-20, -10, 0, 10, 20, 30, 40], "labelExpr": "datum.value % 20 === 0 ? '' + datum.value : ''",
                       "title": "CD [mdeg]", "titleFontSize": 23, "labelPadding": 13, "titlePadding": 8, "titleY": 157,
                       "tickColor": "#555555", "tickOpacity": 1, "tickSize": -7,
                       "grid": true, "gridColor": "#555555", "gridWidth": 1.2,
                       "gridOpacity": {"condition": {"test": "datum.value === 0", "value": 1}, "value": 0}}},
        "color": {"field": "series", "type": "nominal", "scale": {"domain": ["F84R", "F84R (DTT)"], "range": ["#1a1a1a", "#a9a9a9"]},
                  "legend": {"legendX": 100, "legendY": 29, "labelOffset": 14}}
      }
    }
  ]
}
